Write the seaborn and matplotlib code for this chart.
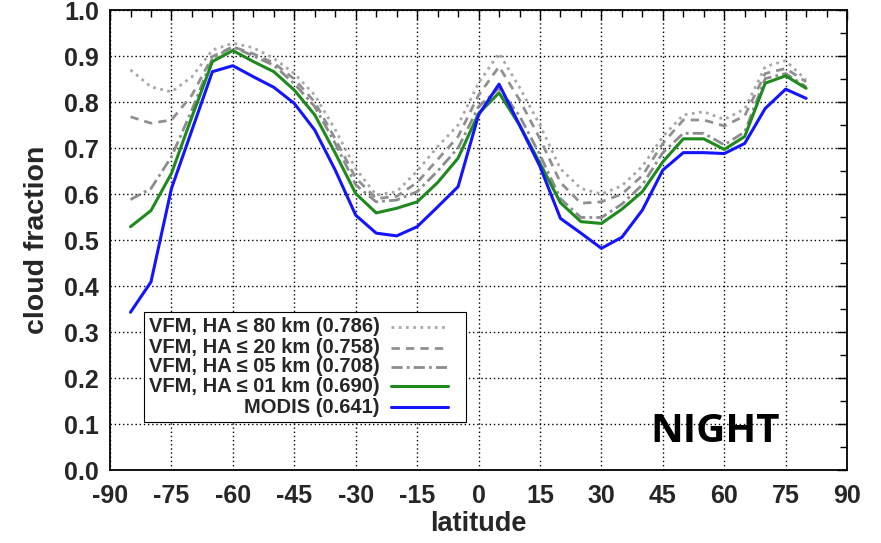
import numpy as np
import pandas as pd
import matplotlib
matplotlib.use('Agg')
import matplotlib.pyplot as plt
import seaborn as sns
from matplotlib.ticker import MultipleLocator
from matplotlib.patches import Rectangle
from matplotlib.lines import Line2D

# ─── Data ───────────────────────────────────────────────────────────────────
lats = [-85, -80, -75, -70, -65, -60, -55, -50, -45, -40, -35, -30, -25, -20, -15, -10, -5,
        0, 5, 10, 15, 20, 25, 30, 35, 40, 45, 50, 55, 60, 65, 70, 75, 80]

vfm_80km = [0.870, 0.833, 0.822, 0.855, 0.913, 0.928, 0.918, 0.895, 0.862, 0.815, 0.740, 0.655,
            0.598, 0.605, 0.650, 0.703, 0.750, 0.841, 0.906, 0.832, 0.750, 0.655, 0.612, 0.600,
            0.618, 0.660, 0.725, 0.772, 0.779, 0.762, 0.785, 0.877, 0.890, 0.848]
vfm_20km = [0.768, 0.754, 0.761, 0.815, 0.899, 0.920, 0.905, 0.885, 0.850, 0.800, 0.720, 0.635,
            0.590, 0.595, 0.625, 0.675, 0.725, 0.815, 0.877, 0.805, 0.720, 0.625, 0.580, 0.583,
            0.600, 0.640, 0.710, 0.761, 0.761, 0.748, 0.770, 0.862, 0.873, 0.844]
vfm_05km = [0.588, 0.612, 0.681, 0.783, 0.895, 0.920, 0.900, 0.880, 0.840, 0.790, 0.710, 0.620,
            0.583, 0.587, 0.605, 0.650, 0.700, 0.790, 0.830, 0.770, 0.685, 0.590, 0.549, 0.549,
            0.578, 0.620, 0.690, 0.732, 0.732, 0.707, 0.735, 0.851, 0.862, 0.833]
vfm_01km = [0.529, 0.564, 0.645, 0.768, 0.888, 0.912, 0.888, 0.866, 0.826, 0.772, 0.689, 0.601,
            0.559, 0.569, 0.583, 0.625, 0.678, 0.775, 0.820, 0.750, 0.667, 0.581, 0.540, 0.536,
            0.567, 0.605, 0.670, 0.720, 0.720, 0.697, 0.725, 0.841, 0.857, 0.830]
modis = [0.343, 0.409, 0.612, 0.739, 0.866, 0.879, 0.855, 0.832, 0.797, 0.739, 0.652, 0.554,
         0.515, 0.509, 0.529, 0.572, 0.616, 0.772, 0.839, 0.750, 0.660, 0.547, 0.515, 0.482,
         0.506, 0.565, 0.652, 0.690, 0.690, 0.688, 0.710, 0.786, 0.828, 0.808]

labels = ['VFM, HA ≤ 80 km (0.786)', 'VFM, HA ≤ 20 km (0.758)', 'VFM, HA ≤ 05 km (0.708)',
          'VFM, HA ≤ 01 km (0.690)', 'MODIS (0.641)']
x_ticks = [-90, -75, -60, -45, -30, -15, 0, 15, 30, 45, 60, 75, 90]
y_ticks = [0.0, 0.1, 0.2, 0.3, 0.4, 0.5, 0.6, 0.7, 0.8, 0.9, 1.0]

# ─── Style ──────────────────────────────────────────────────────────────────
sns.set_style('white')
plt.rcParams['font.family'] = ['Liberation Sans', 'DejaVu Sans']
plt.rcParams['font.weight'] = 'bold'

fig = plt.figure(figsize=(8.81, 5.43), dpi=100)
ax = fig.add_axes([0.1249, 0.1344, 0.8366, 0.8471])

series = [vfm_80km, vfm_20km, vfm_05km, vfm_01km, modis]
colors = ['#a8a8a8', '#909090', '#8c8c8c', '#1e8a1e', '#1414ff']
styles = [(0, (1, 1.6)), (0, (3, 2.2)), (0, (4, 1.5, 1, 1.5)), '-', '-']
widths = [2.0, 2.0, 2.0, 2.2, 2.2]

for vals, c, ls, lw in zip(series, colors, styles, widths):
    df = pd.DataFrame({'lat': lats, 'cf': vals})
    sns.lineplot(data=df, x='lat', y='cf', ax=ax, color=c, linewidth=lw, linestyle=ls)

ax.set_xlim(-90, 90)
ax.set_ylim(0, 1)
ax.set_xticks(x_ticks)
ax.set_yticks(y_ticks)
ax.set_xticklabels([str(t) for t in x_ticks])
ax.set_yticklabels([f'{t:.1f}' for t in y_ticks])
ax.xaxis.set_minor_locator(MultipleLocator(5))
ax.yaxis.set_minor_locator(MultipleLocator(0.05))
ax.tick_params(which='both', direction='in', top=True, right=True, color='black')
ax.tick_params(which='major', length=7, width=1.0, labelsize=18)
ax.tick_params(axis='y', which='major', pad=8)
ax.tick_params(axis='x', which='major', pad=10)
ax.tick_params(which='minor', length=5, width=1.0)
ax.grid(True, which='major', linestyle=(0, (1, 2)), color='black', linewidth=1.0)
for s in ax.spines.values():
    s.set_color('black')
    s.set_linewidth(1.3)

ax.set_xlabel('latitude', fontsize=19.5, fontweight='bold', labelpad=2)
ax.set_ylabel('cloud fraction', fontsize=20.5, fontweight='bold', labelpad=10)

ax.text(0.733, 0.06, 'NIGHT', transform=ax.transAxes, fontsize=29, fontweight='bold',
        family=['Open Sans', 'DejaVu Sans'], color='black', va='baseline')

# gnuplot-like key: right-justified text followed by the line sample
ax.add_patch(Rectangle((0.046, 0.104), 0.437, 0.239, transform=ax.transAxes,
                       facecolor='white', edgecolor='black', linewidth=0.8, zorder=5))
row_y = [0.311, 0.266, 0.224, 0.182, 0.137]
for yy, lab, c, ls, lw in zip(row_y, labels, colors, styles, widths):
    ax.text(0.366, yy, lab, transform=ax.transAxes, ha='right', va='center',
            fontsize=14.5, fontweight='bold', zorder=6)
    ax.add_line(Line2D([0.381, 0.459], [yy, yy], transform=ax.transAxes, color=c,
                       linestyle=ls, linewidth=lw, zorder=6))

fig.savefig('out.png', dpi=100)
